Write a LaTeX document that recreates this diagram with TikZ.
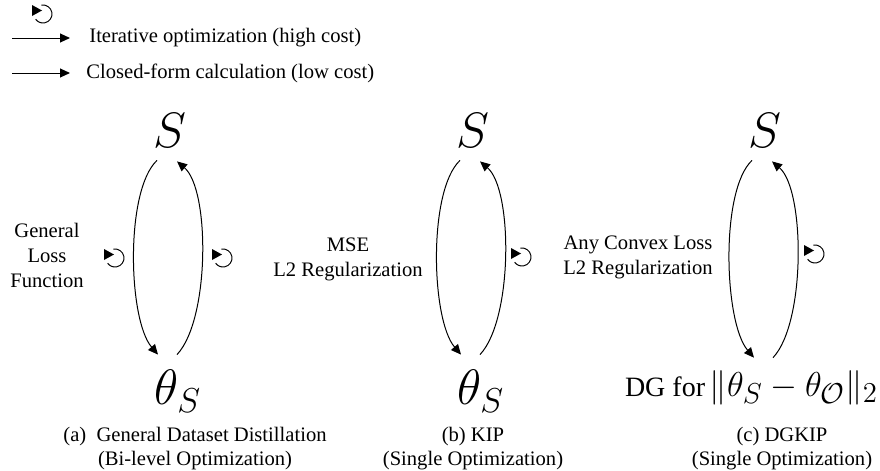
\documentclass[tikz,border=0pt]{standalone}
\usepackage{fontspec}
\setmainfont{Liberation Serif}
\usetikzlibrary{arrows.meta,positioning}

\tikzset{
  txt/.style={font=\fontsize{10.3}{12.5}\selectfont, align=center, inner sep=0pt},
  captxt/.style={font=\fontsize{10.3}{12}\selectfont, align=center, inner sep=0pt},
  sym/.style={font=\fontsize{24}{28}\selectfont, inner sep=0pt},
  flow/.style={line width=0.5pt, -{Triangle[length=5pt,width=4.5pt]}},
  iterloop/.pic={
    \draw[line width=0.5pt] (-100:9) arc[start angle=-100, end angle=145, radius=9];
    \fill (-11,-9) -- (-11,2) -- (-1,-3.5) -- cycle;
  }
}

\begin{document}
\begin{tikzpicture}[x=0.5pt,y=-0.5pt]
\useasboundingbox (0,0) rectangle (880,471);

% legend
\pic at (43,14) {iterloop};
\coordinate (ia) at (12,38);
\node[txt, right=38.5pt of ia] (it) {Iterative optimization (high cost)};
\draw[flow, shorten >=9.5pt] (ia) -- (it.west);
\coordinate (ca) at (12,73);
\node[txt, right=37pt of ca] (ct) {Closed-form calculation (low cost)};
\draw[flow, shorten >=8pt] (ca) -- (ct.west);

% (a) general dataset distillation
\node[sym] (sa) at (170,130) {$S$};
\node[sym] (ta) at (178,391) {$\theta_S$};
\draw[flow] ([shift={(-13,13)}]sa.south) .. controls +(-32,30) and +(-30,-35) .. ([shift={(-20,-15)}]ta.north);
\draw[flow] ([shift={(-1,-15)}]ta.north) .. controls +(33,-35) and +(33,28) .. ([shift={(7,14)}]sa.south);
\pic at (115,258) {iterloop};
\pic at (223,258) {iterloop};
\node[txt] (la) at (47,255) {General\\Loss\\Function};
\node[captxt] (capa) at (195,449) {(a)\ \ General Dataset Distillation\\(Bi-level Optimization)};

% (b) KIP
\node[sym] (sb) at (473,130) {$S$};
\node[sym] (tb) at (481,391) {$\theta_S$};
\draw[flow] ([shift={(-13,13)}]sb.south) .. controls +(-32,30) and +(-30,-35) .. ([shift={(-20,-15)}]tb.north);
\draw[flow] ([shift={(-1,-15)}]tb.north) .. controls +(33,-35) and +(33,28) .. ([shift={(7,14)}]sb.south);
\pic at (522,257) {iterloop};
\node[txt] (lb) at (348,259) {MSE\\L2 Regularization};
\node[captxt] (capb) at (473,449) {(b) KIP\\(Single Optimization)};

% (c) DGKIP
\node[sym] (sc) at (765,130) {$S$};
\node[font=\fontsize{19}{22}\selectfont, inner sep=0pt, anchor=base] (tc) at (794,396) {$\|\theta_S-\theta_{\mathcal{O}}\|_2$};
\node[font=\fontsize{14}{16}\selectfont, inner sep=0pt, anchor=base east] (dg) at ([xshift=-2pt]tc.base west) {DG for};
\draw[flow] ([shift={(-13,13)}]sc.south) .. controls +(-32,30) and +(-30,-35) .. ([shift={(-40,-12)}]tc.north);
\draw[flow] ([shift={(-21,-12)}]tc.north) .. controls +(33,-35) and +(33,28) .. ([shift={(7,14)}]sc.south);
\pic at (815,254) {iterloop};
\node[txt] (lc) at (638,257) {Any Convex Loss\\L2 Regularization};
\node[captxt] (capc) at (782,449) {(c) DGKIP\\(Single Optimization)};
\end{tikzpicture}
\end{document}
